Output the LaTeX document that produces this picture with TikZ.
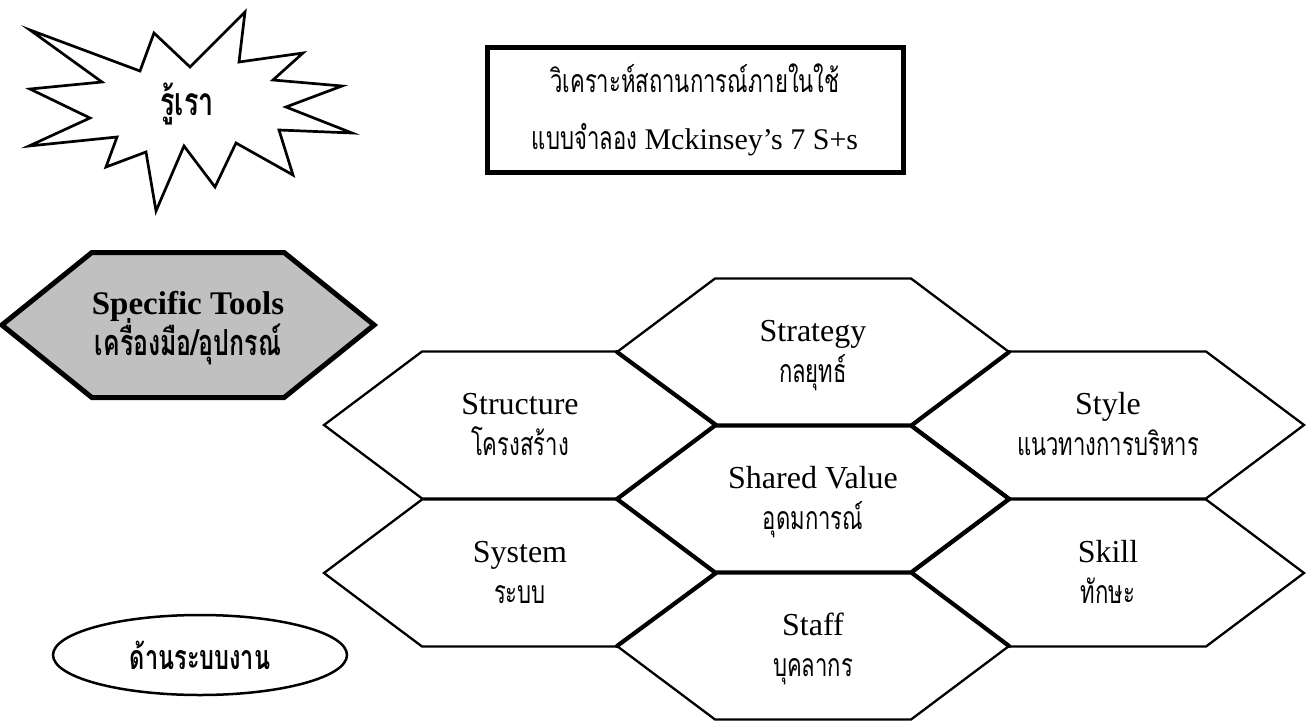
\documentclass[tikz,border=0pt]{standalone}
\usepackage{fontspec}
\setmainfont{Liberation Serif}
\newfontfamily\thaifont[Script=Thai,FakeStretch=0.69]{Loma}
\usetikzlibrary{shapes.symbols,shapes.geometric}
\newcommand{\thaitext}{\thaifont\fontsize{32}{41}\selectfont}
\newcommand{\twoline}[2]{\raisebox{0pt}[24pt][0pt]{#1}\\\raisebox{0pt}[0pt][5pt]{\thaitext #2}}
\tikzset{
	hexcell/.style={signal, signal to=east and west, signal pointer angle=73.74,
			draw, fill=white, line width=2.3pt, minimum width=392pt, minimum height=147pt,
			inner sep=0pt, outer sep=0pt, align=center, font=\fontsize{32}{41}\selectfont},
	core/.style={hexcell, line width=4.2pt},
	seam/.style={line width=4.2pt, line cap=round}
}

\begin{document}
\begin{tikzpicture}[x=1pt,y=-1pt]
	\useasboundingbox (0,0) rectangle (1314,720);
	% know ourselves
	\draw[line width=2.7pt, fill=white] (30,30) -- (140,71) -- (154,33) -- (190,67) -- (245,12) -- (239,62)
	-- (303,53) -- (273,80) -- (342,86) -- (286,107) -- (352,133) -- (279,130) -- (293,175)
	-- (236,143) -- (215,187) -- (184,146) -- (156,211) -- (146,152) -- (106,167) -- (117,137)
	-- (29,146) -- (90,118) -- (30,89) -- (102,82) -- cycle;
	\node (us) at (187,104) {\thaitext\fontsize{39}{41}\selectfont\bfseries รู้เรา};
	\node[draw, line width=5pt, minimum width=416pt, minimum height=125pt, align=center,
		font=\fontsize{30}{41}\selectfont] (task) at (695,109.5)
	{\thaitext วิเคราะห์สถานการณ์ภายในใช้\\[16pt]{\thaitext แบบจำลอง} Mckinsey’s 7 S+s};
	\node[hexcell, minimum width=356pt, minimum height=145pt, signal pointer angle=77.7,
		fill={rgb,255:red,192;green,192;blue,192}, line width=5pt, font=\fontsize{33}{41}\selectfont\bfseries]
	(tools) at (188,325) {\twoline{Specific Tools}{\fontsize{36}{41}\selectfont\bfseries เครื่องมือ/อุปกรณ์}};
	\node[draw, ellipse, line width=2.5pt, minimum width=294pt, minimum height=80pt] (works) at (200,655)
	{\thaitext\fontsize{34}{41}\selectfont\bfseries ด้านระบบงาน};
	% the seven S
	\node[hexcell] (structure) at (520,425) {\twoline{Structure}{โครงสร้าง}};
	\node[hexcell] (strategy) at (813,352) {\twoline{Strategy}{กลยุทธ์}};
	\node[hexcell] (style) at (1108,425) {\twoline{Style}{แนวทางการบริหาร}};
	\node[hexcell] (system) at (520,573) {\twoline{System}{ระบบ}};
	\node[hexcell] (skill) at (1108,573) {\twoline{Skill}{ทักษะ}};
	\node[hexcell] (staff) at (813,646) {\twoline{Staff}{บุคลากร}};
	\node[core] (shared) at (813,499) {\twoline{Shared Value}{อุดมการณ์}};
	\draw[seam] (strategy.west) -- (structure.east);
	\draw[seam] (strategy.east) -- (style.west);
	\draw[seam] (system.east) -- (staff.west);
	\draw[seam] (skill.west) -- (staff.east);
\end{tikzpicture}
\end{document}
